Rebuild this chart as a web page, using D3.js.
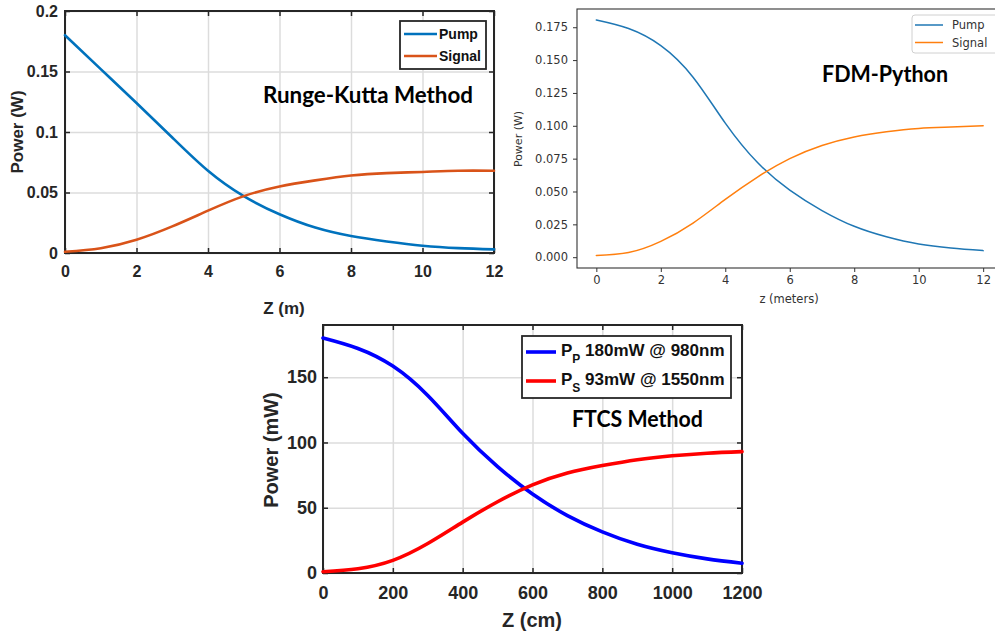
<!DOCTYPE html>
<html>
<head>
<meta charset="utf-8">
<script src="https://cdn.jsdelivr.net/npm/d3@7"></script>
<style>
  html, body { margin: 0; padding: 0; background: #fff; }
  svg { display: block; }
</style>
</head>
<body>
<svg id="fig" width="995" height="635"></svg>
<script>
// ---------- Runge-Kutta solution (W vs m) ----------
const rkZ      = [0, 1, 2, 3, 4, 5, 6, 7, 8, 9, 10, 11, 12];
const rkPump   = [0.180, 0.152, 0.124, 0.0955, 0.068, 0.047, 0.032, 0.021, 0.014, 0.0095, 0.006, 0.004, 0.003];
const rkSignal = [0.001, 0.004, 0.011, 0.022, 0.035, 0.047, 0.055, 0.060, 0.064, 0.066, 0.067, 0.068, 0.068];
const rkXTicks = [0, 2, 4, 6, 8, 10, 12];
const rkYTicks = [0, 0.05, 0.1, 0.15, 0.2];

// ---------- FDM (Python) solution (W vs m) ----------
const fdmZ      = [0, 1, 2, 3, 4, 5, 6, 7, 8, 9, 10, 11, 12];
const fdmPump   = [0.1805, 0.174, 0.161, 0.137, 0.102, 0.072, 0.051, 0.0355, 0.0235, 0.0155, 0.010, 0.007, 0.005];
const fdmSignal = [0.0013, 0.0035, 0.012, 0.026, 0.044, 0.061, 0.075, 0.085, 0.0915, 0.0955, 0.098, 0.099, 0.100];
const fdmXTicks = [0, 2, 4, 6, 8, 10, 12];
const fdmYTicks = [0, 0.025, 0.05, 0.075, 0.1, 0.125, 0.15, 0.175];

// ---------- FTCS solution (mW vs cm) ----------
const ftcsZ      = [0, 100, 200, 300, 400, 500, 600, 700, 800, 900, 1000, 1100, 1200];
const ftcsPump   = [180, 172, 158.5, 136, 107, 81.5, 60.5, 44, 31.5, 22, 15.5, 10.8, 7.5];
const ftcsSignal = [1, 3.3, 9.7, 22.6, 39, 54.6, 67.5, 76.6, 82.3, 86.8, 89.8, 91.8, 93];
const ftcsXTicks = [0, 200, 400, 600, 800, 1000, 1200];
const ftcsYTicks = [0, 50, 100, 150];

const svg = d3.select("#fig");
const ARIAL = "'Liberation Sans', Arial, Helvetica, sans-serif";
const CAL = "Lato, 'Open Sans', sans-serif";

// MATLAB-style axes: box, light grid, inward ticks on all four sides
function matlabAxes(g, x, y, xTicks, yTicks, opt) {
  const [x0, x1] = x.range();
  const [y0, y1] = y.range(); // y0 bottom, y1 top
  const w = x1 - x0, h = y0 - y1;

  // grid
  g.append("g").attr("transform", `translate(0,${y0})`)
    .call(d3.axisBottom(x).tickValues(xTicks).tickSize(-h).tickFormat(""))
    .call(s => s.select(".domain").remove())
    .call(s => s.selectAll("line").attr("stroke", "#dcdcdc").attr("stroke-width", 1.5));
  g.append("g").attr("transform", `translate(${x0},0)`)
    .call(d3.axisLeft(y).tickValues(yTicks).tickSize(-w).tickFormat(""))
    .call(s => s.select(".domain").remove())
    .call(s => s.selectAll("line").attr("stroke", "#dcdcdc").attr("stroke-width", 1.5));

  const style = s => {
    s.select(".domain").remove();
    s.selectAll("line").attr("stroke", "#262626").attr("stroke-width", 1.5);
    s.selectAll("text").attr("fill", "#262626").attr("font-family", opt.font)
      .attr("font-weight", "bold").attr("font-size", opt.tickSize);
  };
  g.append("g").attr("transform", `translate(0,${y0})`)
    .call(d3.axisBottom(x).tickValues(xTicks).tickSize(-5).tickPadding(opt.xPad).tickFormat(opt.xFmt))
    .call(style);
  g.append("g").attr("transform", `translate(0,${y1})`)
    .call(d3.axisTop(x).tickValues(xTicks).tickSize(-5).tickFormat(""))
    .call(style);
  g.append("g").attr("transform", `translate(${x0},0)`)
    .call(d3.axisLeft(y).tickValues(yTicks).tickSize(-5).tickPadding(opt.yPad).tickFormat(opt.yFmt))
    .call(style);
  g.append("g").attr("transform", `translate(${x1},0)`)
    .call(d3.axisRight(y).tickValues(yTicks).tickSize(-5).tickFormat(""))
    .call(style);

  g.append("rect").attr("x", x0).attr("y", y1).attr("width", w).attr("height", h)
    .attr("fill", "none").attr("stroke", "#262626").attr("stroke-width", 2);
}

function drawLine(g, xs, ys, x, y, color, width) {
  const pts = xs.map((v, i) => [v, ys[i]]);
  g.append("path").datum(pts)
    .attr("fill", "none").attr("stroke", color).attr("stroke-width", width)
    .attr("stroke-linecap", "round").attr("stroke-linejoin", "round")
    .attr("d", d3.line().x(d => x(d[0])).y(d => y(d[1])).curve(d3.curveNatural));
}

// ================= Panel 1: Runge-Kutta =================
{
  const g = svg.append("g");
  const x = d3.scaleLinear().domain([0, 12]).range([65, 494]);
  const y = d3.scaleLinear().domain([0, 0.2]).range([253, 11]);
  matlabAxes(g, x, y, rkXTicks, rkYTicks, {
    font: ARIAL, tickSize: 16, xPad: 13, yPad: 7,
    xFmt: d3.format("d"), yFmt: d => String(d)
  });
  drawLine(g, rkZ, rkPump, x, y, "#0072BD", 2.6);
  drawLine(g, rkZ, rkSignal, x, y, "#D95319", 2.6);

  g.append("text").attr("x", 284).attr("y", 314).attr("text-anchor", "middle")
    .attr("font-family", ARIAL).attr("font-weight", "bold").attr("font-size", 17)
    .attr("fill", "#262626").text("Z (m)");
  g.append("text").attr("transform", "translate(23,132) rotate(-90)").attr("text-anchor", "middle")
    .attr("font-family", ARIAL).attr("font-weight", "bold").attr("font-size", 17)
    .attr("fill", "#262626").text("Power (W)");

  // legend
  const lg = g.append("g");
  lg.append("rect").attr("x", 400).attr("y", 21).attr("width", 86).attr("height", 48)
    .attr("fill", "#fff").attr("stroke", "#262626").attr("stroke-width", 1.8);
  [["Pump", "#0072BD", 34], ["Signal", "#D95319", 56]].forEach(([t, c, yy]) => {
    lg.append("line").attr("x1", 404).attr("x2", 437).attr("y1", yy).attr("y2", yy)
      .attr("stroke", c).attr("stroke-width", 2.6);
    lg.append("text").attr("x", 439).attr("y", yy + 5)
      .attr("font-family", ARIAL).attr("font-weight", "bold").attr("font-size", 14)
      .attr("fill", "#111").text(t);
  });

  g.append("text").attr("x", 263).attr("y", 103)
    .attr("font-family", CAL).attr("font-weight", "bold").attr("font-size", 22)
    .attr("textLength", 210).attr("lengthAdjust", "spacingAndGlyphs")
    .attr("fill", "#000").text("Runge-Kutta Method");
}

// ================= Panel 2: FDM-Python =================
{
  const g = svg.append("g");
  const x = d3.scaleLinear().domain([-0.6, 12.6]).range([577, 1002.5]);
  const y = d3.scaleLinear().domain([-0.00822, 0.18888]).range([268, 9]);
  const DV = "'DejaVu Sans', sans-serif";
  const tickStyle = s => {
    s.select(".domain").remove();
    s.selectAll("line").attr("stroke", "#333").attr("stroke-width", 1);
    s.selectAll("text").attr("fill", "#333").attr("font-family", DV).attr("font-size", 11.5);
  };
  g.append("rect").attr("x", 577).attr("y", 9).attr("width", 425.5).attr("height", 259)
    .attr("fill", "#fff").attr("stroke", "#333").attr("stroke-width", 1.1);
  g.append("g").attr("transform", "translate(0,268)")
    .call(d3.axisBottom(x).tickValues(fdmXTicks).tickSize(4).tickPadding(4).tickFormat(d3.format("d")))
    .call(tickStyle);
  g.append("g").attr("transform", "translate(577,0)")
    .call(d3.axisLeft(y).tickValues(fdmYTicks).tickSize(4).tickPadding(5).tickFormat(d3.format(".3f")))
    .call(tickStyle);

  drawLine(g, fdmZ, fdmPump, x, y, "#1f77b4", 1.5);
  drawLine(g, fdmZ, fdmSignal, x, y, "#ff7f0e", 1.5);

  g.append("text").attr("x", 789).attr("y", 303).attr("text-anchor", "middle")
    .attr("font-family", DV).attr("font-size", 11.5).attr("fill", "#333").text("z (meters)");
  g.append("text").attr("transform", "translate(522,139) rotate(-90)").attr("text-anchor", "middle")
    .attr("font-family", DV).attr("font-size", 11).attr("fill", "#333").text("Power (W)");

  const lg = g.append("g");
  lg.append("rect").attr("x", 912).attr("y", 15).attr("width", 95).attr("height", 38).attr("rx", 3)
    .attr("fill", "#fff").attr("fill-opacity", 0.8).attr("stroke", "#d0d0d0").attr("stroke-width", 1);
  [["Pump", "#1f77b4", 25], ["Signal", "#ff7f0e", 42.5]].forEach(([t, c, yy]) => {
    lg.append("line").attr("x1", 915).attr("x2", 943).attr("y1", yy).attr("y2", yy)
      .attr("stroke", c).attr("stroke-width", 1.5);
    lg.append("text").attr("x", 952).attr("y", yy + 4)
      .attr("font-family", DV).attr("font-size", 11.5).attr("fill", "#333").text(t);
  });

  g.append("text").attr("x", 822).attr("y", 82)
    .attr("font-family", CAL).attr("font-weight", "bold").attr("font-size", 22)
    .attr("textLength", 126).attr("lengthAdjust", "spacingAndGlyphs")
    .attr("fill", "#000").text("FDM-Python");
}

// ================= Panel 3: FTCS =================
{
  const g = svg.append("g");
  const x = d3.scaleLinear().domain([0, 1200]).range([323, 742]);
  const y = d3.scaleLinear().domain([0, 190]).range([573, 325]);
  matlabAxes(g, x, y, ftcsXTicks, ftcsYTicks, {
    font: ARIAL, tickSize: 18, xPad: 13, yPad: 6,
    xFmt: d3.format("d"), yFmt: d3.format("d")
  });
  drawLine(g, ftcsZ, ftcsPump, x, y, "#0000FF", 3.6);
  drawLine(g, ftcsZ, ftcsSignal, x, y, "#FF0000", 3.6);

  g.append("text").attr("x", 532).attr("y", 627).attr("text-anchor", "middle")
    .attr("font-family", ARIAL).attr("font-weight", "bold").attr("font-size", 20)
    .attr("fill", "#262626").text("Z (cm)");
  g.append("text").attr("transform", "translate(278,450) rotate(-90)").attr("text-anchor", "middle")
    .attr("font-family", ARIAL).attr("font-weight", "bold").attr("font-size", 20)
    .attr("fill", "#262626").text("Power (mW)");

  const lg = g.append("g");
  lg.append("rect").attr("x", 522).attr("y", 336).attr("width", 209).attr("height", 62)
    .attr("fill", "#fff").attr("stroke", "#262626").attr("stroke-width", 1.8);
  [["P", " 180mW @ 980nm", "#0000FF", 352], ["S", " 93mW @ 1550nm", "#FF0000", 381]].forEach(([sub, t, c, yy]) => {
    lg.append("line").attr("x1", 526).attr("x2", 556).attr("y1", yy).attr("y2", yy)
      .attr("stroke", c).attr("stroke-width", 3.6);
    const tx = lg.append("text").attr("x", 561).attr("y", yy + 4)
      .attr("font-family", ARIAL).attr("font-weight", "bold").attr("font-size", 17).attr("fill", "#111");
    tx.append("tspan").text("P");
    tx.append("tspan").attr("dy", 7).attr("font-size", 12).text(sub);
    tx.append("tspan").attr("dy", -7).text(t);
  });

  g.append("text").attr("x", 572).attr("y", 427)
    .attr("font-family", CAL).attr("font-weight", "bold").attr("font-size", 22)
    .attr("textLength", 131).attr("lengthAdjust", "spacingAndGlyphs")
    .attr("fill", "#000").text("FTCS Method");
}
</script>
</body>
</html>
